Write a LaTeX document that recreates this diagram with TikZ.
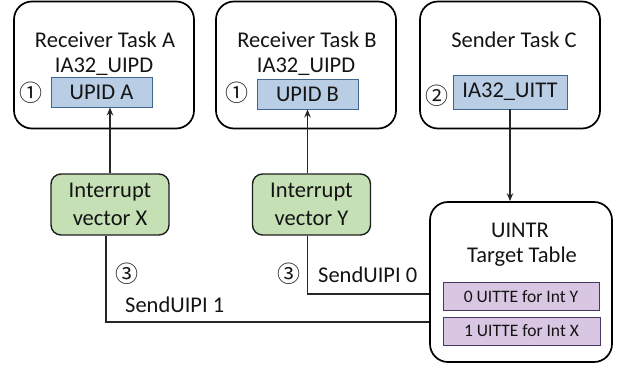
\documentclass[tikz,border=0pt]{standalone}
\usepackage{fontspec}
\setmainfont{Carlito}
\newfontfamily\symfont{Noto Sans CJK JP}
\usetikzlibrary{arrows.meta,calc}
\definecolor{regfill}{RGB}{185,205,229}
\definecolor{regdraw}{RGB}{65,100,145}
\definecolor{vecfill}{RGB}{197,224,180}
\definecolor{vecdraw}{RGB}{30,30,30}
\definecolor{entfill}{RGB}{216,198,226}
\definecolor{entdraw}{RGB}{70,55,100}
\definecolor{txt}{RGB}{20,20,20}
\tikzset{
  bigtext/.style={font=\fontsize{22.5}{28}\selectfont, text=txt},
  smalltext/.style={font=\fontsize{17.5}{20}\selectfont, text=txt},
  circnum/.style={font=\symfont\fontsize{23}{23}\selectfont, text=txt, inner sep=0pt},
  taskbox/.style={draw=black, line width=1.7pt, rounded corners=18pt, minimum width=180pt, minimum height=127pt, inner sep=0pt},
  reg/.style={draw=regdraw, fill=regfill, line width=0.9pt, inner sep=0pt, bigtext},
  vec/.style={draw=vecdraw, fill=vecfill, line width=1.4pt, rounded corners=10pt, minimum width=118pt, minimum height=61pt, inner sep=0pt, align=center, bigtext},
  ent/.style={draw=entdraw, fill=entfill, line width=1pt, inner sep=0pt, minimum width=156pt, minimum height=28pt, smalltext},
  conn/.style={draw=black!85, line width=1.3pt},
  arr/.style={conn, -{Stealth[length=8pt,width=6.5pt]}}
}
\begin{document}
\begin{tikzpicture}[x=1pt,y=-1pt]
\useasboundingbox (0,0) rectangle (619,369);
% task boxes
\node[taskbox] (taskA) at (104,65) {};
\node[taskbox] (taskB) at (306,65) {};
\node[taskbox] (taskC) at (510,65) {};
\node[bigtext, anchor=base] (tA1) at (105,48) {Receiver Task A};
\node[bigtext, anchor=base] (tA2) at (104,73) {IA32\_UIPD};
\node[bigtext, anchor=base] (tB1) at (307,48) {Receiver Task B};
\node[bigtext, anchor=base] (tB2) at (306,73) {IA32\_UIPD};
\node[bigtext, anchor=base] (tC1) at (514,48) {Sender Task C};
% registers
\node[reg, minimum width=101pt, minimum height=30pt] (upidA) at (101.5,92) {UPID A};
\node[reg, minimum width=101pt, minimum height=30pt] (upidB) at (307.5,94) {UPID B};
\node[reg, minimum width=114pt, minimum height=34pt] (uitt) at (510,92) {IA32\_UITT};
\node[circnum] (c1a) at (31,92.5) {①};
\node[circnum] (c1b) at (237,93) {①};
\node[circnum] (c2) at (437,96) {②};
% vectors
\node[vec] (vecX) at (110,204.5) {Interrupt\\vector X};
\node[vec] (vecY) at (311.5,204.5) {Interrupt\\vector Y};
% UINTR table
\node[taskbox, minimum width=182pt, minimum height=160pt] (uintr) at (521,282) {};
\node[bigtext, anchor=base] (u1) at (520,237) {UINTR};
\node[bigtext, anchor=base] (u2) at (522,262) {Target Table};
\node[ent] (ent0) at (521,296.5) {0 UITTE for Int Y};
\node[ent, minimum width=157pt] (ent1) at (521.5,331) {1 UITTE for Int X};
% arrows
\draw[arr] (vecX.north) -- (vecX.north |- upidA.south);
\draw[arr] (vecY.north -| upidB.south) -- (upidB.south);
\draw[arr] (uitt.south) -- (uitt.south |- uintr.north);
% send lines
\draw[conn] ([xshift=-4pt]vecX.south) |- ($(uintr.west)+(0,40)$);
\draw[conn] ([xshift=-4pt]vecY.south) |- ($(uintr.west)+(0,12)$);
\node[circnum] (c3a) at (127,274) {③};
\node[circnum] (c3b) at (289,274) {③};
\node[bigtext, anchor=base west, inner sep=0pt] (s1) at (125,312) {SendUIPI 1};
\node[bigtext, anchor=base west, inner sep=0pt] (s0) at (318,282) {SendUIPI 0};
\end{tikzpicture}
\end{document}
